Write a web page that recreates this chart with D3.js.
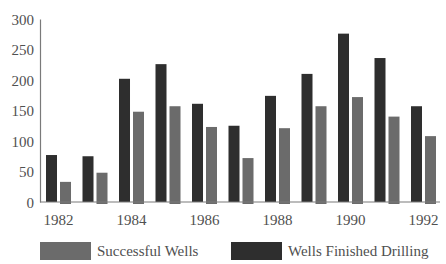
<!DOCTYPE html>
<html>
<head>
<meta charset="utf-8">
<script src="https://cdn.jsdelivr.net/npm/d3@7/dist/d3.min.js"></script>
<style>
  body { margin: 0; background: #fff; }
  text { font-family: "Liberation Serif", "DejaVu Serif", serif; fill: #505050; }
</style>
</head>
<body>
<div id="chart"></div>
<script>
var years = [1982, 1983, 1984, 1985, 1986, 1987, 1988, 1989, 1990, 1991, 1992],
    finished = [77, 75, 202, 226, 161, 125, 174, 210, 276, 236, 157],
    successful = [33, 48, 148, 157, 123, 72, 121, 157, 172, 140, 108],
    yTicks = [0, 50, 100, 150, 200, 250, 300],
    xLabels = [1982, 1984, 1986, 1988, 1990, 1992],
    seriesNames = ['Successful Wells', 'Wells Finished Drilling']

var width = 446, height = 264,
    margins = { top: 19, right: 6, bottom: 62, left: 40 },
    colors = { finished: '#2e2e2e', successful: '#6b6b6b', axis: '#7a7a7a' }

var svg = d3.select('#chart').append('svg')
    .attr('width', width)
    .attr('height', height)

var x = d3.scaleBand().domain(years).range([46, 436]).paddingInner(0.315).paddingOuter(0),
    sub = d3.scaleBand().domain(['finished', 'successful']).range([0, x.bandwidth()]).paddingInner(0.214),
    y = d3.scaleLinear().domain([0, 300]).range([height - margins.bottom, margins.top])

var yAxis = d3.axisLeft(y).tickValues(yTicks).tickSize(0).tickPadding(6)
svg.append('g')
    .attr('transform', 'translate(' + margins.left + ',0)')
    .call(yAxis)
    .call(g => g.select('.domain').attr('stroke', colors.axis).attr('stroke-width', 1.2))
    .call(g => g.selectAll('text').attr('font-size', 15).attr('dy', '0.35em'))

// bars
var groups = svg.append('g').selectAll('g').data(years).join('g')
    .attr('transform', d => 'translate(' + x(d) + ',0)')

groups.append('rect')
    .attr('x', sub('finished'))
    .attr('width', sub.bandwidth())
    .attr('y', (d, i) => y(finished[i]))
    .attr('height', (d, i) => y(0) - y(finished[i]))
    .attr('fill', colors.finished)

groups.append('rect')
    .attr('x', sub('successful'))
    .attr('width', sub.bandwidth())
    .attr('y', (d, i) => y(successful[i]))
    .attr('height', (d, i) => y(0) - y(successful[i]) + 2)
    .attr('fill', colors.successful)

// baseline
svg.append('line')
    .attr('x1', margins.left).attr('x2', width - margins.right)
    .attr('y1', y(0)).attr('y2', y(0))
    .attr('stroke', colors.axis).attr('stroke-width', 1.2)

// x labels
svg.append('g').selectAll('text').data(xLabels).join('text')
    .attr('x', d => x(d) + x.bandwidth() / 2)
    .attr('y', y(0) + 23)
    .attr('text-anchor', 'middle')
    .attr('font-size', 15)
    .text(d => d)

// legend
var legend = svg.append('g').attr('transform', 'translate(0,242)')
var legendItems = [
    { name: seriesNames[0], color: colors.successful, x: 40 },
    { name: seriesNames[1], color: colors.finished, x: 231 }
]
legendItems.forEach(function (item) {
    legend.append('rect')
        .attr('x', item.x).attr('y', 0)
        .attr('width', 51).attr('height', 18)
        .attr('fill', item.color)
    legend.append('text')
        .attr('x', item.x + 57).attr('y', 14)
        .attr('font-size', 15)
        .text(item.name)
})
</script>
</body>
</html>
